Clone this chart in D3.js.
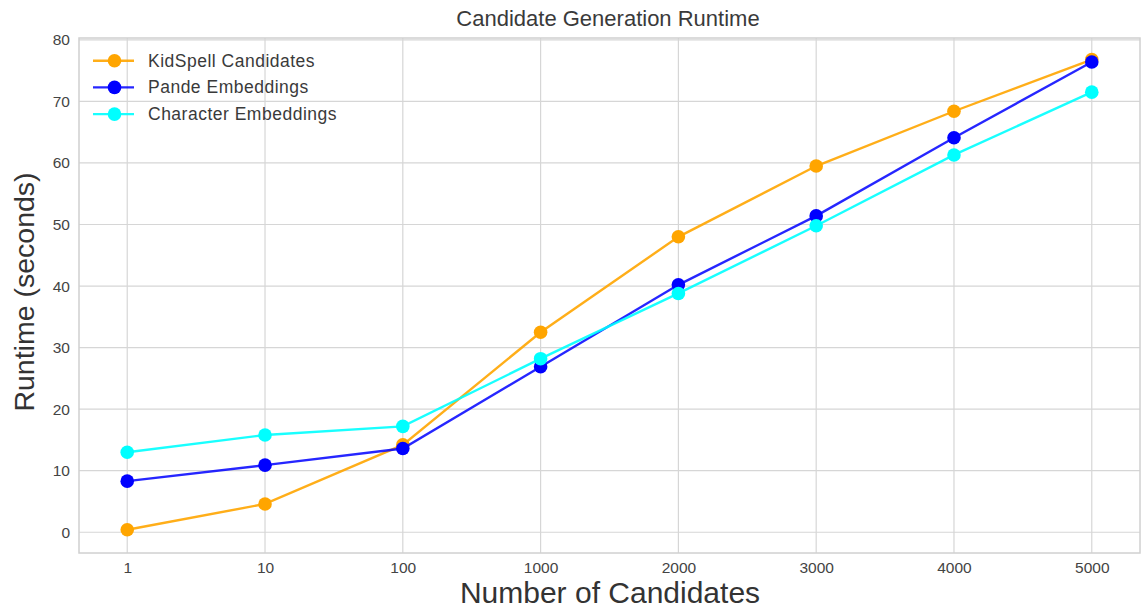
<!DOCTYPE html>
<html><head><meta charset="utf-8">
<script src="https://cdn.jsdelivr.net/npm/d3@7"></script>
<style>body{margin:0;background:#fff;} svg{display:block;font-family:"Liberation Sans",Arial,sans-serif;}</style>
</head><body><svg id="c" width="1141" height="611"></svg>
<script>
const categories = ["1","10","100","1000","2000","3000","4000","5000"];
const kidspell = [0.4, 4.6, 14.2, 32.5, 48.0, 59.5, 68.4, 76.8];
const pande = [8.3, 10.9, 13.6, 26.9, 40.2, 51.4, 64.1, 76.4];
const character = [13.0, 15.8, 17.2, 28.2, 38.8, 49.8, 61.3, 71.5];
const yTicks = [0,10,20,30,40,50,60,70,80];
const seriesNames = ["KidSpell Candidates","Pande Embeddings","Character Embeddings"];
const seriesColors = ["#ffa500","#0000ff","#00ffff"];
const seriesData = [kidspell, pande, character];

const svg = d3.select("#c");
const L=79, R=1140, T=38, B=553;
const x = d3.scaleLinear().domain([-0.35, categories.length-1+0.35]).range([L,R]);
const y = d3.scaleLinear().domain([-3.37, 80.3]).range([B,T]);

// grid
const g = svg.append("g");
g.selectAll("line.gy").data(yTicks).join("line")
  .attr("x1",L).attr("x2",R).attr("y1",d=>y(d)).attr("y2",d=>y(d))
  .attr("stroke","#d6d6d6").attr("stroke-width",1.2);
g.selectAll("line.gx").data(categories).join("line")
  .attr("y1",T).attr("y2",B).attr("x1",(d,i)=>x(i)).attr("x2",(d,i)=>x(i))
  .attr("stroke","#d6d6d6").attr("stroke-width",1.2);
svg.append("rect").attr("x",L).attr("y",T).attr("width",R-L).attr("height",B-T)
  .attr("fill","none").attr("stroke","#d0d0d0").attr("stroke-width",1.5);

// axes
const yAxis = d3.axisLeft(y).tickValues(yTicks).tickSize(0).tickPadding(9);
const ya = svg.append("g").attr("transform",`translate(${L},0)`).call(yAxis);
const xAxis = d3.axisBottom(x).tickValues(d3.range(categories.length)).tickFormat(i=>categories[i]).tickSize(0).tickPadding(9);
const xa = svg.append("g").attr("transform",`translate(0,${B})`).call(xAxis);
[ya,xa].forEach(a=>{a.select(".domain").remove(); a.selectAll("text").attr("font-size",15.5).attr("fill","#444").attr("font-family","Liberation Sans, Arial, sans-serif");});

// lines
const line = d3.line().x((d,i)=>x(i)).y(d=>y(d));
seriesData.forEach((s,k)=>{
  svg.append("path").datum(s).attr("d",line).attr("fill","none")
    .attr("stroke",seriesColors[k]).attr("stroke-width",2.4).attr("stroke-opacity",k===1?0.85:0.9);
  svg.append("g").selectAll("circle").data(s).join("circle")
    .attr("cx",(d,i)=>x(i)).attr("cy",d=>y(d)).attr("r",6.8).attr("fill",seriesColors[k]);
});

// legend
const lg = svg.append("g");
seriesNames.forEach((n,k)=>{
  const yy = 60.7 + k*26.7;
  lg.append("line").attr("x1",93).attr("x2",134).attr("y1",yy).attr("y2",yy)
    .attr("stroke",seriesColors[k]).attr("stroke-width",2.4).attr("stroke-opacity",k===1?0.85:0.9);
  lg.append("circle").attr("cx",114.5).attr("cy",yy).attr("r",6.8).attr("fill",seriesColors[k]);
  lg.append("text").attr("x",148).attr("y",yy+6).text(n).attr("font-size",17.5)
    .attr("letter-spacing",0.5).attr("fill","#3a3a3a");
});

// titles
svg.append("text").attr("x",608).attr("y",26).attr("text-anchor","middle")
  .attr("font-size",22).attr("fill","#3a3a3a").text("Candidate Generation Runtime");
svg.append("text").attr("x",610).attr("y",603).attr("text-anchor","middle")
  .attr("font-size",30).attr("fill","#333").text("Number of Candidates");
svg.append("text").attr("transform",`translate(34,292) rotate(-90)`).attr("text-anchor","middle")
  .attr("font-size",28.5).attr("fill","#333").text("Runtime (seconds)");
</script></body></html>
